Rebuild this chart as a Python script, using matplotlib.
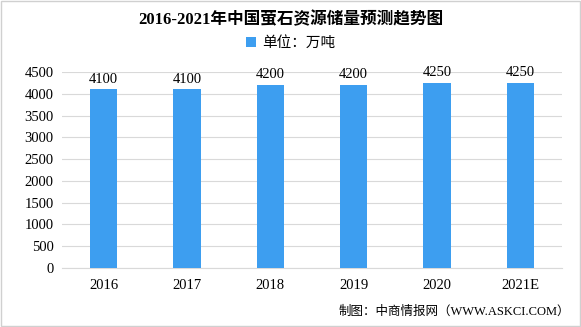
import matplotlib.pyplot as plt
from matplotlib.patches import Rectangle

years = ["2016", "2017", "2018", "2019", "2020", "2021E"]
reserves = [4100, 4100, 4200, 4200, 4250, 4250]

plt.rcParams['font.family'] = ['Liberation Serif', 'Noto Sans CJK SC']

fig = plt.figure(figsize=(5.81, 3.27), dpi=100)
ax = fig.add_axes([62/581, 1-268/327, 500/581, 196/327])

bars = ax.bar(years, reserves, width=0.33, color="#3d9ef0", zorder=3, label="单位：万吨")
for b, v in zip(bars, reserves):
    ax.text(b.get_x() + b.get_width()/2, v + 90, str(v), ha="center", va="bottom", fontsize=10.5)

ax.set_ylim(0, 4500)
ax.set_yticks(range(0, 4501, 500))
ax.set_xlim(-0.5, 5.5)
ax.grid(axis="y", color="#d9d9d9", linewidth=0.8, zorder=0)
for s in ["left", "right", "top"]:
    ax.spines[s].set_visible(False)
ax.spines["bottom"].set_color("#d9d9d9")
ax.tick_params(axis="both", length=0, labelsize=10.5)
ax.tick_params(axis="x", pad=8)
ax.tick_params(axis="y", pad=6)

fig.text(0.5, 1-20/327, "2016-2021年中国萤石资源储量预测趋势图", ha="center", va="center",
         fontsize=12, fontweight="bold")
fig.legend(handles=[bars], labels=["单位：万吨"], loc="center", bbox_to_anchor=(0.5, 1-43/327),
           frameon=False, fontsize=10.5, handlelength=0.7, handleheight=0.7, handletextpad=0.4)
fig.text(570/581, 1-312/327, "制图：中商情报网（WWW.ASKCI.COM）", ha="right", va="center", fontsize=9)

fig.patches.append(Rectangle((0.001, 0.002), 0.997, 0.995, transform=fig.transFigure,
                             fill=False, edgecolor="#d0d0d0", linewidth=1))

fig.savefig("out.png", dpi=100)
